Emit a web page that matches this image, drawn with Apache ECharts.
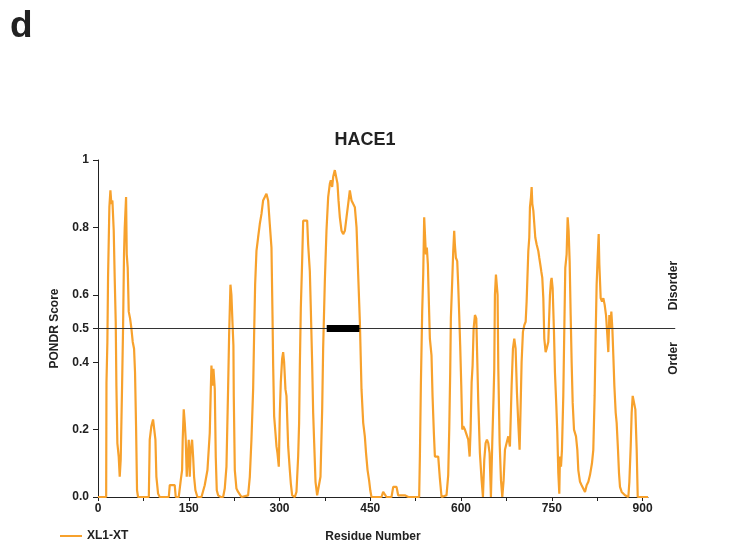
<!DOCTYPE html>
<html>
<head>
<meta charset="utf-8">
<script src="https://cdn.jsdelivr.net/npm/echarts@6/dist/echarts.min.js"></script>
<style>
  html, body { margin: 0; padding: 0; background: #fff; }
  #chart { width: 737px; height: 544px; }
</style>
</head>
<body>
<div id="chart"></div>
<script>
// PONDR score (XL1-XT) per residue as [residue, score]
const region1to100 = [[0,0],[13.5,0],[14,0.34],[15.5,0.46],[16.6,0.65],[18.8,0.86],[20.5,0.91],[22.1,0.87],[23.8,0.88],[26,0.79],[27.6,0.65],[29.3,0.52],[30.4,0.33],[32,0.16],[34.2,0.12],[35.9,0.06],[37.5,0.11],[39.7,0.32],[41.4,0.5],[43,0.72],[44.2,0.8],[46.4,0.89],[47.5,0.72],[49.1,0.68],[50.8,0.55],[53,0.53],[55.2,0.5],[57.4,0.46],[59.6,0.44],[61.2,0.37],[62.9,0.21],[64.5,0.02],[66.2,0],
  [84,0],[85.5,0.17],[88.2,0.21],[91,0.23],[93.8,0.23],[94.9,0.17],[96.5,0.06],[99.3,0.01]];
const region100to240 = [[102,0],[117,0],[118.6,0.035],[126.8,0.035],[128.5,0],
  [133.4,0],[135.1,0.025],[136.8,0.05],[139,0.08],[140,0.17],[141.7,0.26],[143.4,0.22],[145,0.17],[146.7,0.06],[148.3,0.12],[150,0.17],[151.6,0.06],[153.3,0.14],[155.5,0.17],[157.2,0.12],[158.8,0.06],[161,0.02],[164.3,0],
  [171,0],[176.4,0.035],[180.9,0.08],[184.7,0.19],[186.4,0.32],[187.5,0.39],[189.1,0.33],[190.8,0.38],[193,0.32],[194.6,0.12],[196.3,0.02],[198.5,0.005],[202.9,0],
  [206.8,0],[209.5,0.025],[212.3,0.09],[215,0.32],[216.7,0.48],[218.9,0.63],[220.5,0.6],[222.2,0.52],[223.8,0.45],[224.4,0.3],[226.1,0.08],[228.8,0.025],[231.6,0.015],[237.1,0]];
const region240to370 = [[248.1,0.005],[250.9,0.06],[253.6,0.17],[256.4,0.32],[258,0.48],[259.7,0.63],[261.9,0.73],[264.6,0.77],[267.4,0.81],[270.2,0.84],[272.9,0.88],[275.7,0.89],[278.4,0.9],[281.2,0.88],[283.9,0.81],[286.7,0.74],[288.4,0.54],[289.5,0.39],[291.1,0.24],[293.3,0.19],[295,0.15],[296.6,0.13],[298.8,0.09],[300.5,0.25],[302.1,0.34],[304.3,0.41],[306,0.43],[307.6,0.4],[309.8,0.32],[311.5,0.3],[314.3,0.15],[317,0.08],[318.7,0.04],[320.9,0.005],[325.3,0],
  [328,0.015],[330.8,0.12],[332.4,0.22],[333.6,0.39],[335.2,0.56],[337.4,0.7],[339.1,0.82],[341.8,0.82],[345.7,0.82],[347.3,0.75],[350.1,0.67],[351.7,0.56],[353.9,0.4],[355.6,0.25],[357.3,0.16],[359.5,0.045],[362.2,0.005],[365.5,0.01],[367.7,0.06]];
const region370to530 = [[370.5,0.26],[372.1,0.44],[374.9,0.64],[377.6,0.79],[380.4,0.89],[383.2,0.93],[384.8,0.94],[387,0.92],[388.7,0.95],[391.4,0.97],[394.2,0.975],[395.8,0.93],[397.5,0.88],[399.7,0.83],[402.5,0.79],[405.2,0.78],[408,0.79],[410.7,0.83],[413.5,0.87],[416.2,0.91],[419,0.88],[421.7,0.87],[424.5,0.86],[427.3,0.8],[430,0.66],[432.8,0.52],[435.5,0.32],[438.3,0.22],[441,0.18],[443,0.13],[445.5,0.08],[448,0.05],[450,0.02],[452,0],
  [468.6,0],[471.3,0.015],[474.1,0.015],[476.8,0],[485.1,0],[487.9,0.03],[493.4,0.03],[496.1,0.005],[498.9,0],[507,0.005],[513,0],[530.8,0]];
const region530to680 = [[532,0.12],[533.6,0.33],[535.8,0.55],[537.5,0.66],[539.1,0.83],[540.2,0.83],[541.9,0.72],[543.5,0.74],[545.2,0.69],[546.8,0.58],[548.5,0.47],[551.2,0.42],[552.9,0.3],[555.1,0.19],[556.8,0.12],[562.3,0.12],[565,0.055],[567.8,0],[576,0.005],
  [578.8,0.065],[580.5,0.2],[582.1,0.37],[583.2,0.53],[585.4,0.64],[587.1,0.73],[588.7,0.79],[589.8,0.75],[591.5,0.71],[593.7,0.7],[595.3,0.63],[597,0.54],[598.6,0.45],[600.4,0.33],[602,0.2],[603.7,0.21],[606.4,0.2],[609.2,0.2],[611.9,0.17],[614.2,0.12],
  [615.8,0.2],[617.5,0.34],[619.1,0.39],[620.8,0.5],[623,0.54],[625.2,0.53],[626.8,0.41],[628.5,0.28],[631.2,0.13],[634,0.05],[636.2,0],[638.4,0.11],[640.6,0.16],[642.8,0.17],[645,0.16],[647.2,0.13],[649.4,0],
  [651.6,0.16],[653.8,0.3],[654.9,0.38],[656,0.6],[657.7,0.66],[660.4,0.6],[661.6,0.38],[663.8,0.16],[666,0.05],[668.2,0],[670.4,0.05],[672.6,0.14],[675.3,0.16],[678.1,0.18]];
const region680to800 = [[680.8,0.15],[683.6,0.33],[685.8,0.44],[688,0.47],[690.2,0.44],[692.4,0.31],[694.6,0.22],[696.8,0.14],[698.5,0.27],[700.1,0.4],[702.3,0.49],[704.6,0.51],[706.8,0.52],[708.4,0.58],[711.2,0.73],[712.8,0.77],[713.9,0.86],[715.6,0.89],[716.7,0.92],[717.8,0.87],[719.5,0.85],[721.1,0.81],[722.7,0.77],[724.9,0.75],[727.7,0.73],[729.3,0.71],[731,0.69],[732.6,0.67],[734.3,0.65],[736,0.59],[737.6,0.47],[739.8,0.43],[741.5,0.44],[744.2,0.46],[747,0.6],[748.6,0.64],[749.7,0.65],[751.4,0.62],[753.6,0.49],[755.2,0.37],[757.5,0.27],[759.1,0.19],[760.8,0.07],[762.4,0.01],
  [763.5,0.12],[765.2,0.09],[766.8,0.14],[769,0.3],[770.7,0.5],[772.3,0.68],[774.5,0.72],[776.2,0.83],[777.8,0.79],[779.5,0.7],[781.2,0.54],[782.8,0.4],[784.5,0.28],[786.7,0.2],[790,0.18],[792.2,0.14],[793.8,0.08],[796.6,0.045],[799.3,0.035]];
const region800to909 = [[802.1,0.035],[804.9,0.015],[807.6,0.035],[810.4,0.045],[813.1,0.065],[814.8,0.07],[816.4,0.1],[818.6,0.14],[820.8,0.3],[822.5,0.48],[824.1,0.63],[825.8,0.71],[827.5,0.78],[828.6,0.69],[830.8,0.59],[833,0.58],[835.2,0.59],[837.4,0.57],[839.6,0.54],[841.8,0.48],[843.4,0.43],[845.1,0.54],[846.8,0.5],[848.4,0.55],[850.1,0.5],[851.7,0.42],[853.4,0.33],[855.6,0.25],[857.2,0.22],[859.4,0.14],[861.1,0.07],[862.7,0.03],[865.5,0.015],[868.2,0.01],[871,0.005],[873.8,0],
  [876.5,0],[878.2,0.045],[880.4,0.15],[882,0.25],[883.7,0.3],[886.4,0.3],[888.1,0.26],[890.3,0.14],[892,0],[909,0]];

const xLabelValues = [0, 150, 300, 450, 600, 750, 900];
const xTickValues = [0, 75, 150, 225, 300, 375, 450, 525, 600, 675, 750, 825, 900];
const yTickValues = [0, 0.2, 0.4, 0.5, 0.6, 0.8, 1];
const threshold = 0.5;
const thresholdEnd = 954;      // line runs past the axis end, as in the figure
const boxRange = [378, 432];   // black bar on the threshold line

const FONT = '"Liberation Sans", Arial, Helvetica, sans-serif';
const ORANGE = '#f7a12c';
const INK = '#222';

const pondr = [].concat(region1to100, region100to240, region240to370,
  region370to530, region530to680, region680to800, region800to909);

const chart = echarts.init(document.getElementById('chart'));

chart.setOption({
  animation: false,
  textStyle: { fontFamily: FONT },
  title: [
    { text: 'HACE1', left: 360, top: 126, textAlign: 'center',
      textStyle: { fontSize: 18, fontWeight: 'bold', color: INK, fontFamily: FONT } },
    { text: 'd', left: 5, top: 3,
      textStyle: { fontSize: 37, fontWeight: 'bold', color: INK, fontFamily: FONT } }
  ],
  legend: {
    left: 55, top: 525, itemWidth: 22, itemHeight: 2, itemGap: 10,
    textStyle: { fontSize: 12, fontWeight: 'bold', color: INK, fontFamily: FONT },
    data: [{ name: 'XL1-XT', icon: 'rect' }]
  },
  grid: { left: 98, right: 89, top: 160, bottom: 47, outerBoundsMode: 'none' },
  xAxis: {
    type: 'value', min: 0, max: 909,
    name: 'Residue Number', nameLocation: 'middle', nameGap: 34,
    nameTextStyle: { fontSize: 12, fontWeight: 'bold', color: INK, fontFamily: FONT },
    axisLine: { show: true, lineStyle: { color: INK, width: 1 } },
    axisTick: { show: true, customValues: xTickValues, length: 4, lineStyle: { color: INK } },
    axisLabel: { customValues: xLabelValues, margin: 6, fontSize: 12, fontWeight: 'bold', color: INK, fontFamily: FONT },
    splitLine: { show: false }
  },
  yAxis: {
    type: 'value', min: 0, max: 1,
    name: 'PONDR Score', nameLocation: 'middle', nameGap: 37,
    nameTextStyle: { fontSize: 12, fontWeight: 'bold', color: INK, fontFamily: FONT },
    axisLine: { show: true, lineStyle: { color: INK, width: 1 } },
    axisTick: { show: true, customValues: yTickValues, length: 5, lineStyle: { color: INK } },
    axisLabel: {
      customValues: yTickValues, margin: 9, fontSize: 12, fontWeight: 'bold', color: INK, fontFamily: FONT,
      formatter: v => (v === 1 ? '1' : v.toFixed(1))
    },
    splitLine: { show: false }
  },
  series: [{
    name: 'XL1-XT',
    type: 'line',
    data: pondr,
    symbol: 'none',
    clip: false,
    lineStyle: { color: ORANGE, width: 2.2 },
    itemStyle: { color: ORANGE },
    markLine: {
      silent: true,
      symbol: 'none',
      label: { show: false },
      lineStyle: { color: '#000', width: 7, type: 'solid' },
      data: [[{ coord: [boxRange[0], threshold] }, { coord: [boxRange[1], threshold] }]]
    }
  }]
});

// threshold line extends beyond the x axis end, so draw it from the scale
const p0 = chart.convertToPixel({ gridIndex: 0 }, [0, threshold]);
const p1 = chart.convertToPixel({ gridIndex: 0 }, [thresholdEnd, threshold]);
const labelX = p1[0] - 2;

chart.setOption({
  graphic: [
    { type: 'line', z: 4, silent: true,
      shape: { x1: p0[0], y1: p0[1], x2: p1[0], y2: p1[1] },
      style: { stroke: '#333', lineWidth: 1.2 } },
    { type: 'text', x: labelX, y: p0[1] - 43, rotation: Math.PI / 2,
      style: { text: 'Disorder', font: 'bold 12px ' + FONT, fill: INK, textAlign: 'center', textVerticalAlign: 'middle' } },
    { type: 'text', x: labelX, y: p0[1] + 30, rotation: Math.PI / 2,
      style: { text: 'Order', font: 'bold 12px ' + FONT, fill: INK, textAlign: 'center', textVerticalAlign: 'middle' } }
  ]
});
</script>
</body>
</html>
